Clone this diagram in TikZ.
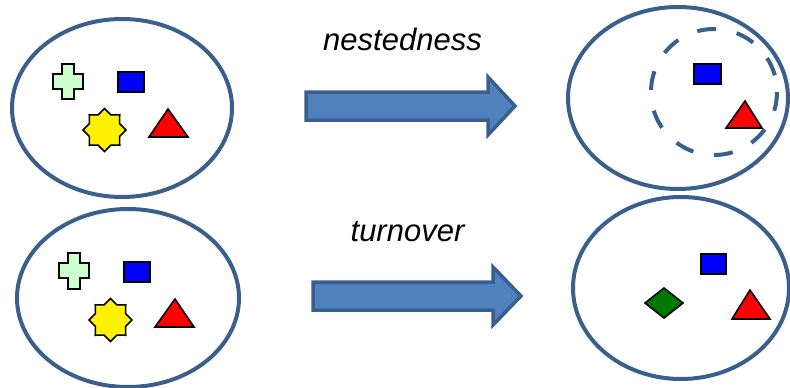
\documentclass[tikz,border=0pt]{standalone}
\usepackage{fontspec}
\setmainfont{Liberation Sans}
\definecolor{edgeblue}{RGB}{58,95,140}
\definecolor{fillblue}{RGB}{79,129,189}
\definecolor{crossgreen}{RGB}{204,255,204}
\definecolor{diagreen}{RGB}{0,120,0}
\begin{document}
\begin{tikzpicture}[x=1pt,y=-1pt,
  ring/.style={draw=edgeblue,line width=4pt},
  dashring/.style={draw=edgeblue,line width=4pt,dash pattern=on 19pt off 21pt},
  fatarrow/.style={draw=edgeblue,fill=fillblue,line width=3.5pt,line join=miter},
  shp/.style={draw=black,line width=1.6pt,line join=miter},
  lbl/.style={font=\fontsize{31}{37}\selectfont\itshape,inner sep=0pt,anchor=base}
]
\useasboundingbox (0,0) rectangle (790,388);
% ellipses
\draw[ring] (122,108) ellipse [x radius=110,y radius=89];
\draw[ring] (678,98) ellipse [x radius=110,y radius=91];
\draw[ring] (128,298) ellipse [x radius=111,y radius=89];
\draw[ring] (681,288) ellipse [x radius=108,y radius=91];
% arrows
\draw[fatarrow] (306,92) -- (488,92) -- (488,77) -- (515,106) -- (488,135) -- (488,120) -- (306,120) -- cycle;
\draw[fatarrow] (313,282) -- (493,282) -- (493,267) -- (521,296) -- (493,325) -- (493,310) -- (313,310) -- cycle;
% labels
\node[lbl] (nest) at (402.5,50) {nestedness};
\node[lbl] (turn) at (407.5,241) {turnover};
% top-left shapes
\draw[shp,fill=crossgreen] (62,64) -- (74,64) -- (74,74) -- (83,74) -- (83,89) -- (74,89) -- (74,99) -- (62,99) -- (62,89) -- (53,89) -- (53,74) -- (62,74) -- cycle;
\draw[shp,fill=blue] (118,72) rectangle (144,92);
\draw[shp,fill=yellow] plot[samples at={0,...,15}] ({104.5+(mod(\x,2)==0 ? 21.5 : 16.4)*cos(90+22.5*\x)},{130-(mod(\x,2)==0 ? 21.5 : 16.4)*sin(90+22.5*\x)}) -- cycle;
\draw[shp,fill=red] (168,109) -- (188,137) -- (149,137) -- cycle;
% bottom-left shapes
\draw[shp,fill=crossgreen] (68,253) -- (80,253) -- (80,263) -- (89,263) -- (89,278) -- (80,278) -- (80,289) -- (68,289) -- (68,278) -- (59,278) -- (59,263) -- (68,263) -- cycle;
\draw[shp,fill=blue] (124,262) rectangle (150,282);
\draw[shp,fill=yellow] plot[samples at={0,...,15}] ({110.5+(mod(\x,2)==0 ? 21.5 : 16.4)*cos(90+22.5*\x)},{320-(mod(\x,2)==0 ? 21.5 : 16.4)*sin(90+22.5*\x)}) -- cycle;
\draw[shp,fill=red] (175,299) -- (194,327) -- (155,327) -- cycle;
% top-right shapes
\draw[shp,fill=blue] (694,64) rectangle (721,84);
\draw[shp,fill=red] (745,101) -- (762,128) -- (726,128) -- cycle;
\draw[dashring] (714,92) circle [radius=63];
% bottom-right shapes
\draw[shp,fill=blue] (701,254) rectangle (726,274);
\draw[shp,fill=diagreen] (664,288) -- (683,303) -- (664,318) -- (645,303) -- cycle;
\draw[shp,fill=red] (750,290) -- (770,319) -- (732,319) -- cycle;
\end{tikzpicture}
\end{document}
